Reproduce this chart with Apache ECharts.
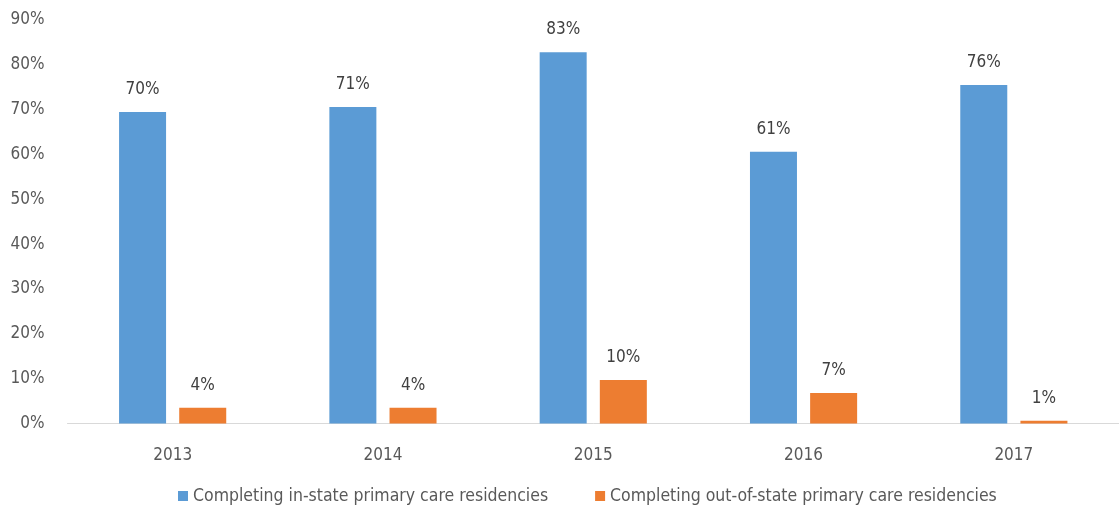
<!DOCTYPE html>
<html>
<head>
<meta charset="utf-8">
<script src="https://cdn.jsdelivr.net/npm/echarts@6/dist/echarts.min.js"></script>
<style>html,body{margin:0;padding:0;background:#fff}#c{width:1119px;height:508px}</style>
</head>
<body>
<div id="c"></div>
<script>
var categories = ['2013', '2014', '2015', '2016', '2017'];
var inState = [69.5, 70.6, 82.8, 60.6, 75.5];
var outState = [3.5, 3.5, 9.7, 6.8, 0.6];
var seriesNames = ['Completing in-state primary care residencies', 'Completing out-of-state primary care residencies'];
var yMin = 0, yMax = 90, yStep = 10;

var FONT = '"Liberation Sans Narrow", "DejaVu Sans Condensed", Arial, sans-serif';
var chart = echarts.init(document.getElementById('c'));
var labelCfg = {
  show: true, position: 'top', distance: 14,
  color: '#404040', fontSize: 17, fontFamily: FONT,
  formatter: function (p) { return Math.round(p.value) + '%'; }
};
chart.setOption({
  animation: false,
  textStyle: { fontFamily: FONT },
  grid: { left: 67.5, top: 20, width: 1060, bottom: 84.5, containLabel: false },
  legend: {
    left: 173, top: 482, itemWidth: 10, itemHeight: 10, itemGap: 47,
    icon: 'rect',
    textStyle: { color: '#595959', fontSize: 17.5, fontFamily: FONT },
    data: seriesNames
  },
  xAxis: {
    type: 'category', data: categories,
    axisLine: { lineStyle: { color: '#d9d9d9', width: 1 } },
    axisTick: { show: false },
    axisLabel: { color: '#595959', fontSize: 17, fontFamily: FONT, margin: 24 }
  },
  yAxis: {
    type: 'value', min: yMin, max: yMax, interval: yStep,
    axisLine: { show: false }, axisTick: { show: false },
    splitLine: { show: false },
    axisLabel: { color: '#595959', fontSize: 17, fontFamily: FONT, margin: 23, formatter: '{value}%' }
  },
  series: [
    { name: seriesNames[0], type: 'bar', data: inState, barWidth: 47, barGap: '28%',
      itemStyle: { color: '#5B9BD5' }, label: labelCfg },
    { name: seriesNames[1], type: 'bar', data: outState, barWidth: 47, barGap: '28%',
      itemStyle: { color: '#ED7D31' }, label: labelCfg }
  ]
});
</script>
</body>
</html>
